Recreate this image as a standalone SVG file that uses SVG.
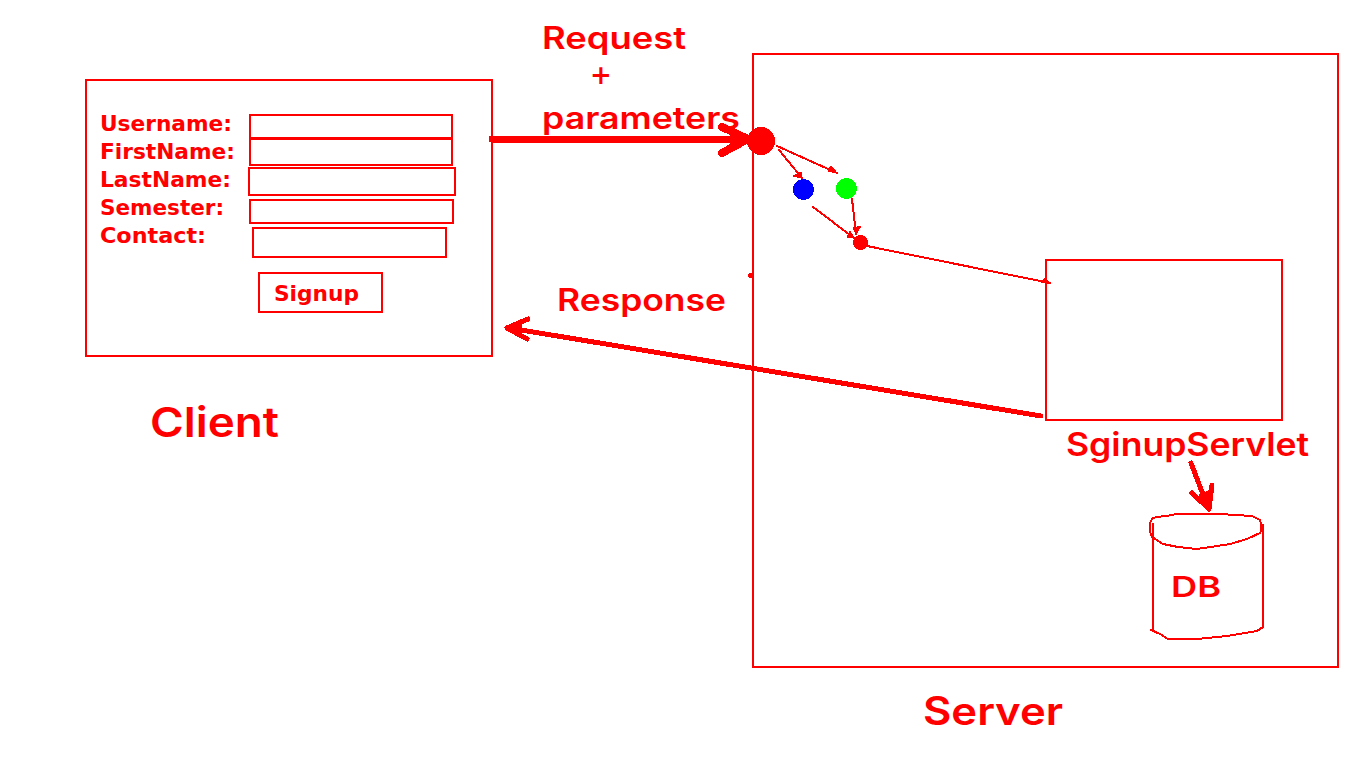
<svg xmlns="http://www.w3.org/2000/svg" width="1366" height="768" viewBox="0 0 1366 768">
<style>
text{fill:#f00;font-family:"Inter","DejaVu Sans",sans-serif;font-weight:600}
.f{font-family:"DejaVu Sans",sans-serif;font-weight:700;font-size:21px}
.r{fill:#fff;stroke:#f00;stroke-width:2;shape-rendering:crispEdges}
.n{fill:none;stroke:#f00;stroke-linecap:round;stroke-linejoin:round;shape-rendering:crispEdges}
.h{fill:#f00;stroke:#f00;stroke-width:1;stroke-linejoin:round;shape-rendering:crispEdges}
circle{shape-rendering:crispEdges}
</style>
<rect width="1366" height="768" fill="#fff"/>
<g id="client">
<rect class="r" x="86" y="80" width="406" height="276"/>
<text x="150" y="437" font-size="41" textLength="129" lengthAdjust="spacingAndGlyphs">Client</text>
</g>
<g id="form">
<rect class="r" x="250" y="115" width="202" height="23"/>
<rect class="r" x="250" y="139" width="202" height="26"/>
<rect class="r" x="249" y="168" width="206" height="27"/>
<rect class="r" x="250" y="200" width="203" height="23"/>
<rect class="r" x="253" y="228" width="193" height="29"/>
<rect class="r" x="259" y="273" width="123" height="39"/>
<text class="f" x="100" y="131" textLength="132" lengthAdjust="spacingAndGlyphs">Username:</text>
<text class="f" x="100" y="159" textLength="135" lengthAdjust="spacingAndGlyphs">FirstName:</text>
<text class="f" x="100" y="187" textLength="131" lengthAdjust="spacingAndGlyphs">LastName:</text>
<text class="f" x="100" y="215" textLength="124" lengthAdjust="spacingAndGlyphs">Semester:</text>
<text class="f" x="100" y="243" textLength="106" lengthAdjust="spacingAndGlyphs">Contact:</text>
<text class="f" x="274" y="301" textLength="85" lengthAdjust="spacingAndGlyphs">Signup</text>
</g>
<g id="server">
<rect class="r" x="753" y="54" width="585" height="613"/>
<text x="923" y="725" font-size="39" textLength="140" lengthAdjust="spacingAndGlyphs">Server</text>
</g>
<g id="servlet">
<rect class="r" x="1046" y="260" width="236" height="160"/>
<text x="1066" y="456" font-size="32" textLength="243" lengthAdjust="spacingAndGlyphs">SginupServlet</text>
</g>
<g id="db">
<path class="n" stroke-width="2" d="M1152 537C1149 530 1149 523 1152 519 1155 516 1162 517 1172 515L1176 514H1220L1252 516 1260 520C1262 526 1262 530 1260 533L1247 539 1230 544 1217 546 1197 549 1178 547 1163 544Z"/>
<path class="n" stroke-width="2" d="M1153 524V630M1151 630L1160 634 1168 639H1197L1227 636 1257 631 1263 627V525"/>
<text x="1171" y="597" font-size="29" textLength="50" lengthAdjust="spacingAndGlyphs">DB</text>
</g>
<g id="dot-main"><circle cx="761" cy="141" r="14" fill="#f00"/></g>
<g id="dot-blue"><circle cx="803.500" cy="189.500" r="10.500" fill="#00f"/></g>
<g id="dot-green"><circle cx="846.500" cy="188.500" r="10.500" fill="#0f0"/></g>
<g id="dot-small"><circle cx="860.500" cy="242.500" r="7.500" fill="#f00"/></g>
<g id="dot-speck"><circle cx="750.500" cy="275.500" r="2.500" fill="#f00"/></g>
<g id="labels">
<text x="590" y="84" font-size="26" style="font-family:'DejaVu Sans',sans-serif;font-weight:700">+</text>
<text x="542" y="49" font-size="31" textLength="144" lengthAdjust="spacingAndGlyphs">Request</text>
<text x="542" y="129" font-size="31" textLength="198" lengthAdjust="spacingAndGlyphs">parameters</text>
<text x="557" y="311" font-size="31" textLength="169" lengthAdjust="spacingAndGlyphs">Response</text>
</g>
<g id="connectors">
<path class="n" stroke-width="7" stroke-linecap="butt" d="M492 139H745"/>
<path class="n" stroke-width="8" d="M722 127L748 139 722 153"/>
<path class="h" d="M730 131L750 139 730 147Z"/>
<path class="n" stroke-width="2" d="M777 146L837 173"/>
<path class="h" d="M831 166L837 173 828 171Z"/>
<path class="n" stroke-width="2" d="M779 150L802 178"/>
<path class="h" d="M793 176L802 178 801 172Z"/>
<path class="n" stroke-width="2" d="M813 207L854 238"/>
<path class="h" d="M847 237L854 238 850 231Z"/>
<path class="n" stroke-width="2" d="M852 199L856 234"/>
<path class="h" d="M853 228L856 234 861 226Z"/>
<path class="n" stroke-width="2" d="M867 246L1050 283"/>
<path class="h" d="M1041 282L1050 283 1045 278Z"/>
<path class="n" stroke-width="5" d="M1041 416L515 329"/>
<path class="n" stroke-width="5" d="M528 319L507 328 527 339"/>
<path class="h" d="M521 322L507 328 521 335Z"/>
<path class="n" stroke-width="5" d="M1191 463L1207 505"/>
<path class="n" stroke-width="5" d="M1192 493L1209 509 1212 485"/>
<path class="h" d="M1199 495L1209 509 1211 490Z"/>
</g>
</svg>
